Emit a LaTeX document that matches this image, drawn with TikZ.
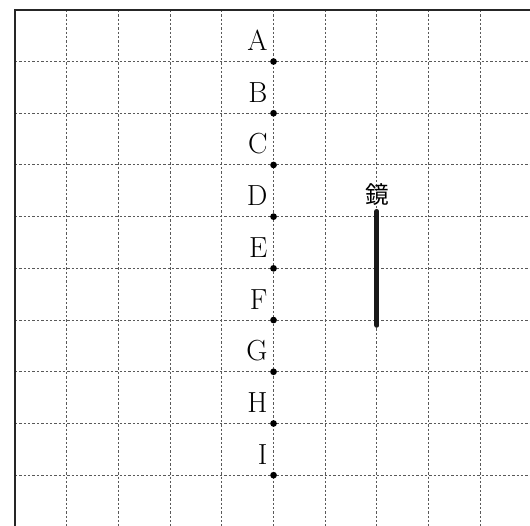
\documentclass[tikz,border=0pt]{standalone}
\usepackage{fontspec}
\newfontfamily\cjk{Noto Sans CJK JP}
\usetikzlibrary{positioning}
\tikzstyle{gridline} = [line width=0.6pt, black!65, dash pattern=on 1.3pt off 1.1pt]
\tikzstyle{border} = [line width=0.9pt, black!85]
\tikzstyle{point} = [circle, fill=black, inner sep=0pt, minimum size=0.13cm]
\tikzstyle{ptlabel} = [inner sep=0pt, font=\fontsize{16}{18}\selectfont]
\tikzstyle{mirror} = [line width=2.8pt, line cap=round, black!90]

\begin{document}
\begin{tikzpicture}[x=1cm, y=1cm]
    \useasboundingbox (-0.29,-9.98) rectangle (9.96,0.19);
    % Dashed grid
    \foreach \x in {1,...,9}
        \draw[gridline] (\x,0) -- (\x,-9.98);
    \foreach \y in {1,...,9}
        \draw[gridline] (0,-\y) -- (9.96,-\y);
    % Solid top and left edges
    \draw[border] (0,-9.98) -- (0,0) -- (9.96,0);

    % Points A--I with their letters
    \foreach \p [count=\i] in {A,B,C,D,E,F,G,H,I} {
        \node[point] (\p) at (5,-\i) {};
        \node[ptlabel, above left=0.15cm and 0.06cm of \p] (l\p) {\p};
    }

    % Mirror
    \coordinate (mtop) at (7,-3.9);
    \coordinate (mbot) at (7,-6.1);
    \draw[mirror] (mtop) -- (mbot);
    \node[font=\cjk\fontsize{13}{15}\selectfont, above=0cm of mtop] (mlabel) {鏡};
\end{tikzpicture}
\end{document}
